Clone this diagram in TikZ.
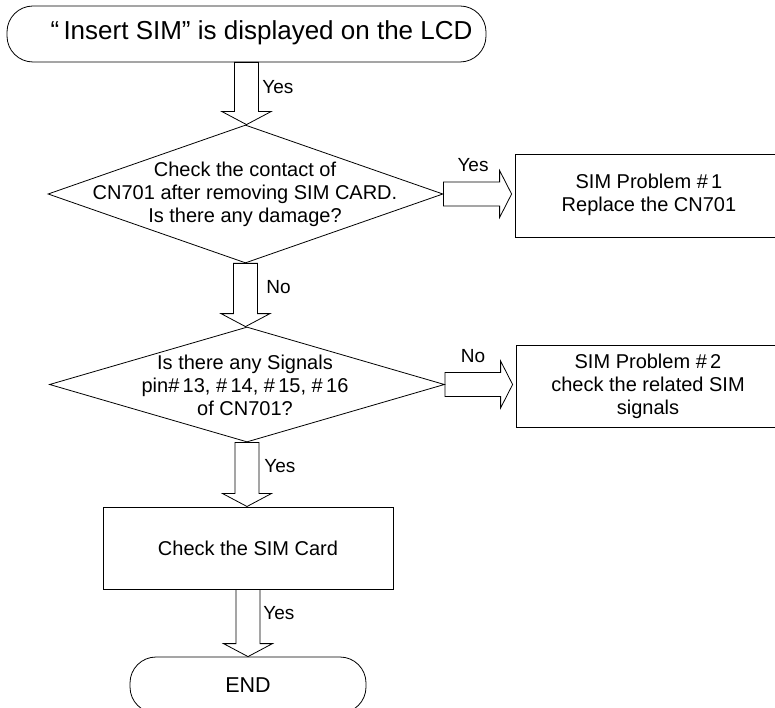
\documentclass[tikz,border=0pt]{standalone}
\usepackage{fontspec}
\setmainfont{Liberation Sans}
\usetikzlibrary{shapes.geometric,calc}
\begin{document}
\begin{tikzpicture}[x=1pt,y=-1pt,
  line width=0.8pt,
  term/.style={draw, rounded corners=26pt, minimum width=479pt, minimum height=56pt, inner sep=0pt},
  dia/.style={draw, diamond, inner sep=0pt},
  txt/.style={align=center, font=\fontsize{20}{23}\selectfont, inner sep=0pt},
  box/.style={draw, line width=1pt, inner sep=0pt, align=center, font=\fontsize{20}{23}\selectfont},
  openbox/.style={inner sep=0pt},
  edge/.style={line width=1pt},
  lbl/.style={font=\fontsize{19}{22}\selectfont, inner sep=0pt},
  vblock/.style={to path={let \p1=(\tikztostart), \p2=(\tikztotarget) in
     (\x1-12pt,\y1) -- (\x1-12pt,\y2+13pt) -- (\x1-24.5pt,\y2+13pt) -- (\x1,\y2) -- (\x1+24.5pt,\y2+13pt) -- (\x1+12pt,\y2+13pt) -- (\x1+12pt,\y1) -- cycle}},
  hblock/.style={to path={let \p1=(\tikztostart), \p2=(\tikztotarget) in
     (\x1,\y1+12pt) -- (\x2-12pt,\y1+12pt) -- (\x2-12pt,\y1+23.5pt) -- (\x2,\y1) -- (\x2-12pt,\y1-23.5pt) -- (\x2-12pt,\y1-12pt) -- (\x1,\y1-12pt) -- cycle}}
]
\useasboundingbox (0,0) rectangle (775,708);
\clip (0,0) rectangle (775,708);

\node[term] (start) at (246.5,34) {};
\node[font=\fontsize{26}{30}\selectfont, inner sep=0pt] (st) at (261.5,33) {“\,Insert SIM” is displayed on the LCD};
\node[dia, minimum width=395pt, minimum height=138pt] (d1) at (245.5,194) {};
\node[txt] (t1) at (245,194) {Check the contact of\\CN701 after removing SIM CARD.\\Is there any damage?};
\node[openbox, minimum width=284pt, minimum height=82pt] (b1) at (658,196) {};
\draw[edge] (b1.north east) -- (b1.north west) -- (b1.south west) -- (b1.south east);
\node[txt] (bt1) at (649,194.5) {SIM Problem \#\,1\\Replace the CN701};
\node[dia, minimum width=395pt, minimum height=115pt] (d2) at (247,384.5) {};
\node[txt] (t2) at (245,385) {Is there any Signals\\pin\#\,13, \#\,14, \#\,15, \#\,16\\of CN701?};
\node[openbox, minimum width=283pt, minimum height=81pt] (b2) at (658.5,386.5) {};
\draw[edge] (b2.north east) -- (b2.north west) -- (b2.south west) -- (b2.south east);
\node[txt] (bt2) at (648,386) {SIM Problem \#\,2\\check the related SIM\\signals};
\node[box, minimum width=290pt, minimum height=82pt] (b3) at (248,548) {Check the SIM Card};
\node[term, minimum width=236pt, font=\fontsize{21.5}{26}\selectfont] (end) at (248,685) {END};

\draw (start.south) to[vblock] (d1.north);
\draw (d1.south) to[vblock] (d2.north);
\draw (d2.south) to[vblock] (b3.north);
\draw (b3.south) to[vblock] (end.north);
\draw (d1.east) to[hblock] ($(b1.west)+(-4,0)$);
\draw (d2.east) to[hblock] ($(b2.west)+(-4,0)$);

\node[lbl, anchor=west] (l1) at (262,87) {Yes};
\node[lbl] (l2) at (473,165) {Yes};
\node[lbl, anchor=west] (l3) at (266,287) {No};
\node[lbl] (l4) at (473,356) {No};
\node[lbl, anchor=west] (l5) at (264,466) {Yes};
\node[lbl, anchor=west] (l6) at (263,613) {Yes};
\end{tikzpicture}
\end{document}
